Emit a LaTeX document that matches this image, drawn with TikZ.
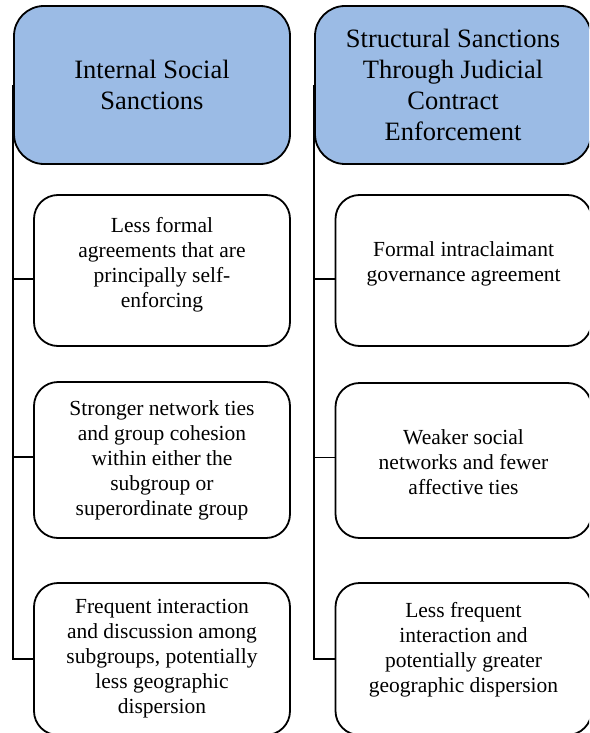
\documentclass[tikz,border=0pt]{standalone}
\usepackage{fontspec}
\setmainfont{Liberation Serif}
\definecolor{hdrblue}{RGB}{155,187,229}
\begin{document}
\begin{tikzpicture}[x=1pt,y=-1pt,
  hdr/.style={draw=black, line width=1.8pt, rounded corners=30pt, fill=hdrblue,
    minimum width=276pt, minimum height=158pt, inner sep=0pt, align=center,
    font={\rmfamily\fontsize{26.5}{30.8}\selectfont}},
  kidbox/.style={draw=black, line width=1.8pt, rounded corners=24pt, fill=white,
    minimum width=256pt, inner sep=0pt},
  kidtext/.style={align=center, inner sep=0pt, font={\rmfamily\fontsize{21.5}{25}\selectfont}},
  conn/.style={draw=black, line width=1.8pt}]
\clip (0,0) rectangle (589,733);
\useasboundingbox (0,0) rectangle (589,733);
% headers
\node[hdr] (hL) at (152,85) {Internal Social\\Sanctions};
\node[hdr] (hR) at (453,85) {Structural Sanctions\\Through Judicial\\Contract\\Enforcement};
% left children
\node[kidbox, minimum height=151pt] (l1) at (162,270.5) {};
\node[kidbox, minimum height=156pt] (l2) at (162,460) {};
\node[kidbox, minimum height=152pt] (l3) at (162,659) {};
% right children
\node[kidbox, minimum height=151pt] (r1) at (463.5,270.5) {};
\node[kidbox, minimum height=155pt] (r2) at (463.5,460.5) {};
\node[kidbox, minimum height=152pt] (r3) at (463.5,659) {};
% texts
\node[kidtext] (tl1) at ([yshift=6pt]l1.center) {Less formal\\agreements that are\\principally self-\\enforcing};
\node[kidtext] (tl2) at (l2.center) {Stronger network ties\\and group cohesion\\within either the\\subgroup or\\superordinate group};
\node[kidtext] (tl3) at (l3.center) {Frequent interaction\\and discussion among\\subgroups, potentially\\less geographic\\dispersion};
\node[kidtext] (tr1) at ([yshift=7pt]r1.center) {Formal intraclaimant\\governance agreement};
\node[kidtext] (tr2) at ([yshift=-2pt]r2.center) {Weaker social\\networks and fewer\\affective ties};
\node[kidtext] (tr3) at ([yshift=9pt]r3.center) {Less frequent\\interaction and\\potentially greater\\geographic dispersion};
% connector end points
\coordinate (l1c) at ([yshift=-8.5pt]l1.west);
\coordinate (l2c) at ([yshift=3pt]l2.west);
\coordinate (r1c) at ([yshift=-8.5pt]r1.west);
\coordinate (r2c) at ([yshift=3pt]r2.west);
% connectors
\draw[conn] (hL.west) |- (l3.west);
\draw[conn] (hL.west |- l1c) -- (l1c);
\draw[conn] (hL.west |- l2c) -- (l2c);
\draw[conn] (hR.west) |- (r3.west);
\draw[conn] (hR.west |- r1c) -- (r1c);
\draw[conn] (hR.west |- r2c) -- (r2c);
\end{tikzpicture}
\end{document}
